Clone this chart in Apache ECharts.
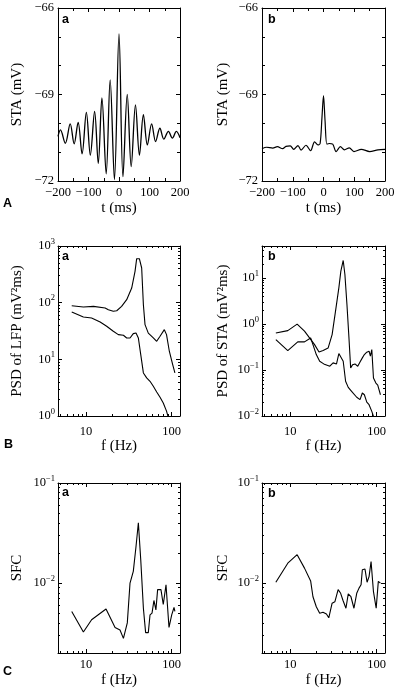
<!DOCTYPE html>
<html><head><meta charset="utf-8">
<script src="https://cdn.jsdelivr.net/npm/echarts@6/dist/echarts.min.js"></script>
<style>html,body{margin:0;padding:0;background:#fff}#c{width:400px;height:694px}</style>
</head><body><div id="c"></div>
<script>
// ---------------- data ----------------
// A a : spike-triggered average, oscillating neuron (t ms, mV)
const staOsc = [[-200,-70.45],[-192,-70.23],[-176,-70.69],[-160,-70.02],[-147,-70.71],[-134,-69.97],[-121,-71.06],[-107,-69.62],[-94,-71.10],[-80,-69.59],[-68,-71.39],[-56,-69.12],[-42,-71.75],[-29,-68.49],[-15,-71.95],[0,-66.9],[13,-71.85],[27,-69.0],[40,-71.5],[54,-69.36],[67,-71.10],[80,-69.70],[93,-70.75],[107,-70.02],[120,-70.63],[134,-70.17],[147,-70.55],[162,-70.28],[175,-70.51],[188,-70.28],[200,-70.5]];
// A b
const staFlat = [[-200,-70.88],[-185,-70.83],[-165,-70.86],[-150,-70.81],[-133,-70.88],[-122,-70.80],[-108,-70.78],[-97,-70.90],[-83,-70.77],[-73,-70.93],[-57,-70.76],[-42,-70.95],[-29,-70.64],[-18,-70.75],[-11,-70.70],[-5,-69.8],[0,-69.04],[5,-69.9],[11,-70.72],[19,-70.70],[30,-70.72],[41,-70.98],[55,-70.81],[68,-70.92],[84,-70.85],[99,-70.98],[123,-70.90],[150,-70.98],[177,-70.92],[200,-70.90]];
// B a : PSD of LFP (f Hz, mV^2 ms)
const psdLfpHigh = [[6.8,88.5],[9.3,84],[12.2,86],[16.7,80.5],[18.2,75],[20.8,70.5],[22.8,72],[26,86],[29.8,113],[34.1,181],[37.3,357],[39,597],[41.9,597],[44.6,409],[46.7,92],[48.8,41],[53.3,29],[61,24],[66.8,20.8],[73.1,25.5],[82,33.4],[87,27.3],[93.8,13.9],[102.7,8.1],[109,5.75]];
const psdLfpLow = [[6.8,68.6],[9.3,56],[11.6,53.7],[14.6,45.7],[17.4,38.4],[20.8,31.3],[23.8,27.3],[27.3,26.6],[29.8,23.8],[32.6,23.8],[35.6,28.4],[38.3,29.2],[40.8,23.8],[43.5,12.1],[46.7,5.75],[51,4.7],[55.8,4.1],[61,3.35],[66.8,2.66],[73.1,2.14],[79.7,1.7],[87,1.22],[92,0.9]];
// B b : PSD of STA
const psdStaHigh = [[6.8,0.64],[9.35,0.72],[12.0,1.0],[14.6,0.70],[16.7,0.50],[19.1,0.357],[21.5,0.248],[24,0.265],[27.4,0.30],[30.5,0.59],[33.4,1.91],[36.5,6.15],[38.5,14.2],[41.0,24.2],[42.9,12],[45.3,2.66],[47.8,0.5],[50,0.111],[52.7,0.131],[56.1,0.136],[60.4,0.121],[64.2,0.15],[68.3,0.184],[72.1,0.217],[76.9,0.245],[81.7,0.257],[84.7,0.2],[87.9,0.28],[91.9,0.067],[98,0.052],[103,0.047],[105,0.048],[110.7,0.029]];
const psdStaLow = [[6.8,0.46],[9.35,0.265],[12.2,0.41],[14.6,0.41],[17.2,0.50],[18.3,0.357],[20,0.217],[21.9,0.155],[24.4,0.136],[28.7,0.121],[31.3,0.143],[34.3,0.136],[36.5,0.228],[38.5,0.228],[41,0.155],[43.7,0.057],[46.9,0.042],[51.3,0.0345],[58.8,0.0256],[64.2,0.0227],[68.3,0.0317],[72.1,0.029],[76.9,0.020],[81.7,0.0176],[87.9,0.0126],[93,0.0092]];
// C : spike-field coherence
const sfcA = [[6.8,0.0052],[9.3,0.00324],[11.6,0.0043],[17.1,0.0055],[21.8,0.0036],[24.9,0.0034],[27.3,0.0028],[30.3,0.004],[32.6,0.01],[35.6,0.0131],[38.3,0.0232],[40.8,0.04],[43.5,0.0171],[46.7,0.0056],[49.6,0.0032],[53.3,0.0032],[55.8,0.0048],[58.9,0.0050],[62,0.0067],[65.4,0.0054],[68.5,0.0086],[74.9,0.0086],[79.7,0.0061],[85.8,0.0096],[93,0.0036],[100,0.0048],[106.4,0.0057],[109,0.0052]];
const sfcB = [[6.8,0.0102],[9.35,0.0158],[12.0,0.0192],[14.6,0.0141],[17.2,0.0105],[18.3,0.0073],[20,0.0058],[21.9,0.005],[23.9,0.0051],[26.2,0.0049],[27.9,0.0045],[30.5,0.0063],[32.8,0.0065],[35.8,0.0086],[38.3,0.0079],[40.8,0.0067],[44.1,0.0056],[46.9,0.0078],[50.4,0.0073],[54.6,0.0056],[58.8,0.0079],[62.5,0.0089],[66,0.0096],[68.3,0.0136],[73.3,0.0138],[77.5,0.0102],[81.7,0.0116],[86.2,0.0164],[91.9,0.0082],[94,0.0085],[98.8,0.0056],[104.6,0.0104],[110.7,0.01]];

// axis ranges and tick values
const tRange = [-200, 200], tLabelStep = 100, tMinorSplit = 2;
const vRange = [-72, -66], vLabelStep = 3, vMinorSplit = 3;
const fRange = [4.7, 125];
const psdLfpRange = [1, 1000];
const psdStaRange = [0.01, 50];
const sfcRange = [0.002, 0.1];

// ---------------- styling / layout ----------------
const SERIF = '"Liberation Serif","Times New Roman",serif';
const SANS = '"Liberation Sans",Arial,sans-serif';
const BLACK = '#000';
const labelFont = {fontFamily: SERIF, fontSize: 12.5, color: BLACK};
const nameFont = {fontFamily: SERIF, fontSize: 15, color: BLACK};

function minus(v){ return v < 0 ? '\u2212' + Math.abs(v) : String(v); }
function logFmt(v){
  const e = Math.log10(v), n = Math.round(e);
  if (Math.abs(e - n) > 1e-6) return '';
  return '{b|10}{s|' + minus(n) + '}';
}
function linFmt(v){ return minus(v); }
function logPlain(v){
  const e = Math.log10(v), n = Math.round(e);
  if (Math.abs(e - n) > 1e-6) return '';
  return String(Math.round(v));
}
const supRich = {
  b: {fontFamily: SERIF, fontSize: 12.5, color: BLACK},
  s: {fontFamily: SERIF, fontSize: 8.5, color: BLACK, padding: [0, 0, 9, 0]}
};
function minorLogValues(range){
  const out = [];
  for (let e = Math.floor(Math.log10(range[0])); e <= Math.ceil(Math.log10(range[1])); e++) {
    for (let m = 2; m <= 9; m++) {
      const v = m * Math.pow(10, e);
      if (v > range[0] && v < range[1]) out.push(Math.log10(v));
    }
  }
  return out;
}

const grids = [], xAxes = [], yAxes = [], series = [], titles = [];
const lineAxis = {show: true, onZero: false, lineStyle: {color: BLACK, width: 1}};

function addAxisSet(arr, dim, gi, p, isLog, range, fmt, labelMargin, name, nameGap, linStep, minorSplit){
  const pos = dim === 'x' ? ['bottom', 'top'] : ['left', 'right'];
  const mainIndex = arr.length;
  pos.forEach((ps, k) => {
    const ax = {
      gridIndex: gi, position: ps, type: isLog ? 'log' : 'value',
      min: range[0], max: range[1],
      axisLine: lineAxis,
      axisTick: {show: true, inside: true, length: 4, lineStyle: {color: BLACK, width: 1}},
      splitLine: {show: false},
      axisLabel: {show: false}
    };
    if (isLog) ax.logBase = 10;
    else {
      ax.interval = linStep;
      ax.minorTick = {show: true, splitNumber: minorSplit, length: 3, lineStyle: {color: BLACK, width: 1}};
      ax.minorSplitLine = {show: false};
    }
    if (k === 0) {
      ax.axisLabel = Object.assign({show: true, margin: labelMargin, formatter: fmt, showMinLabel: true, showMaxLabel: true}, labelFont);
      if (isLog && dim === 'y') ax.axisLabel.rich = supRich;
      ax.name = name; ax.nameLocation = 'middle'; ax.nameGap = nameGap;
      ax.nameTextStyle = Object.assign({}, nameFont);
      if (dim === 'y') ax.nameRotate = 90;
    }
    arr.push(ax);
  });
  if (isLog) {
    pos.forEach(ps => {
      arr.push({
        gridIndex: gi, position: ps, type: 'value',
        min: Math.log10(range[0]), max: Math.log10(range[1]),
        axisLine: {show: false, onZero: false},
        axisTick: {show: true, inside: true, length: 2, customValues: minorLogValues(range), lineStyle: {color: BLACK, width: 1}},
        axisLabel: {show: false}, splitLine: {show: false}
      });
    });
  }
  return mainIndex;
}

function addPanel(p){
  const gi = grids.length;
  grids.push({left: p.left, top: p.top, width: p.width, height: p.height});
  const xi = addAxisSet(xAxes, 'x', gi, p, p.xLog, p.xRange, p.xFmt, p.xMargin, p.xName, p.xNameGap, p.xStep, p.xMinor);
  const yi = addAxisSet(yAxes, 'y', gi, p, p.yLog, p.yRange, p.yFmt, p.yMargin, p.yName, p.yNameGap, p.yStep, p.yMinor);
  p.lines.forEach(d => series.push({
    type: 'line', xAxisIndex: xi, yAxisIndex: yi, data: d, showSymbol: false, symbol: 'none',
    smooth: p.smooth || false, clip: true, silent: true,
    lineStyle: {color: BLACK, width: p.lw || 1.1}
  }));
  titles.push({text: p.letter, left: p.letterX, top: p.letterY, padding: 0,
    textStyle: {fontFamily: SANS, fontWeight: 'bold', fontSize: 12.5, color: BLACK}});
}

addPanel({left: 58, top: 8, width: 122, height: 173, xLog: false, xRange: tRange, xStep: tLabelStep, xMinor: tMinorSplit, xFmt: linFmt, xMargin: 5, xName: 't (ms)', xNameGap: 20,
  yLog: false, yRange: vRange, yStep: vLabelStep, yMinor: vMinorSplit, yFmt: linFmt, yMargin: 4, yName: 'STA (mV)', yNameGap: 33,
  lines: [staOsc], smooth: 0.35, lw: 1.3, letter: 'a', letterX: 62, letterY: 13});
addPanel({left: 262, top: 8, width: 123, height: 173, xLog: false, xRange: tRange, xStep: tLabelStep, xMinor: tMinorSplit, xFmt: linFmt, xMargin: 5, xName: 't (ms)', xNameGap: 20,
  yLog: false, yRange: vRange, yStep: vLabelStep, yMinor: vMinorSplit, yFmt: linFmt, yMargin: 4, yName: 'STA (mV)', yNameGap: 31,
  lines: [staFlat], smooth: 0.3, lw: 1.2, letter: 'b', letterX: 268, letterY: 13});
addPanel({left: 58, top: 246, width: 122, height: 170, xLog: true, xRange: fRange, xFmt: logPlain, xMargin: 9, xName: 'f (Hz)', xNameGap: 23,
  yLog: true, yRange: psdLfpRange, yFmt: logFmt, yMargin: 3, yName: 'PSD of LFP (mV\u00b2ms)', yNameGap: 33,
  lines: [psdLfpHigh, psdLfpLow], letter: 'a', letterX: 62, letterY: 250});
addPanel({left: 262, top: 246, width: 123, height: 170, xLog: true, xRange: fRange, xFmt: logPlain, xMargin: 9, xName: 'f (Hz)', xNameGap: 23,
  yLog: true, yRange: psdStaRange, yFmt: logFmt, yMargin: 3, yName: 'PSD of STA (mV\u00b2ms)', yNameGap: 31,
  lines: [psdStaHigh, psdStaLow], letter: 'b', letterX: 268, letterY: 250});
addPanel({left: 58, top: 483, width: 122, height: 170, xLog: true, xRange: fRange, xFmt: logPlain, xMargin: 5, xName: 'f (Hz)', xNameGap: 20,
  yLog: true, yRange: sfcRange, yFmt: logFmt, yMargin: 3, yName: 'SFC', yNameGap: 33,
  lines: [sfcA], letter: 'a', letterX: 62, letterY: 486});
addPanel({left: 262, top: 483, width: 123, height: 170, xLog: true, xRange: fRange, xFmt: logPlain, xMargin: 5, xName: 'f (Hz)', xNameGap: 20,
  yLog: true, yRange: sfcRange, yFmt: logFmt, yMargin: 3, yName: 'SFC', yNameGap: 31,
  lines: [sfcB], letter: 'b', letterX: 268, letterY: 487});

// row letters
[['A', 3, 197], ['B', 4, 438], ['C', 3, 665]].forEach(r => titles.push({
  text: r[0], left: r[1], top: r[2], padding: 0,
  textStyle: {fontFamily: SANS, fontWeight: 'bold', fontSize: 12.5, color: BLACK}
}));

const chart = echarts.init(document.getElementById('c'), null, {renderer: 'canvas'});
chart.setOption({
  animation: false,
  backgroundColor: '#fff',
  title: titles,
  grid: grids,
  xAxis: xAxes,
  yAxis: yAxes,
  series: series
});
</script>
</body></html>
